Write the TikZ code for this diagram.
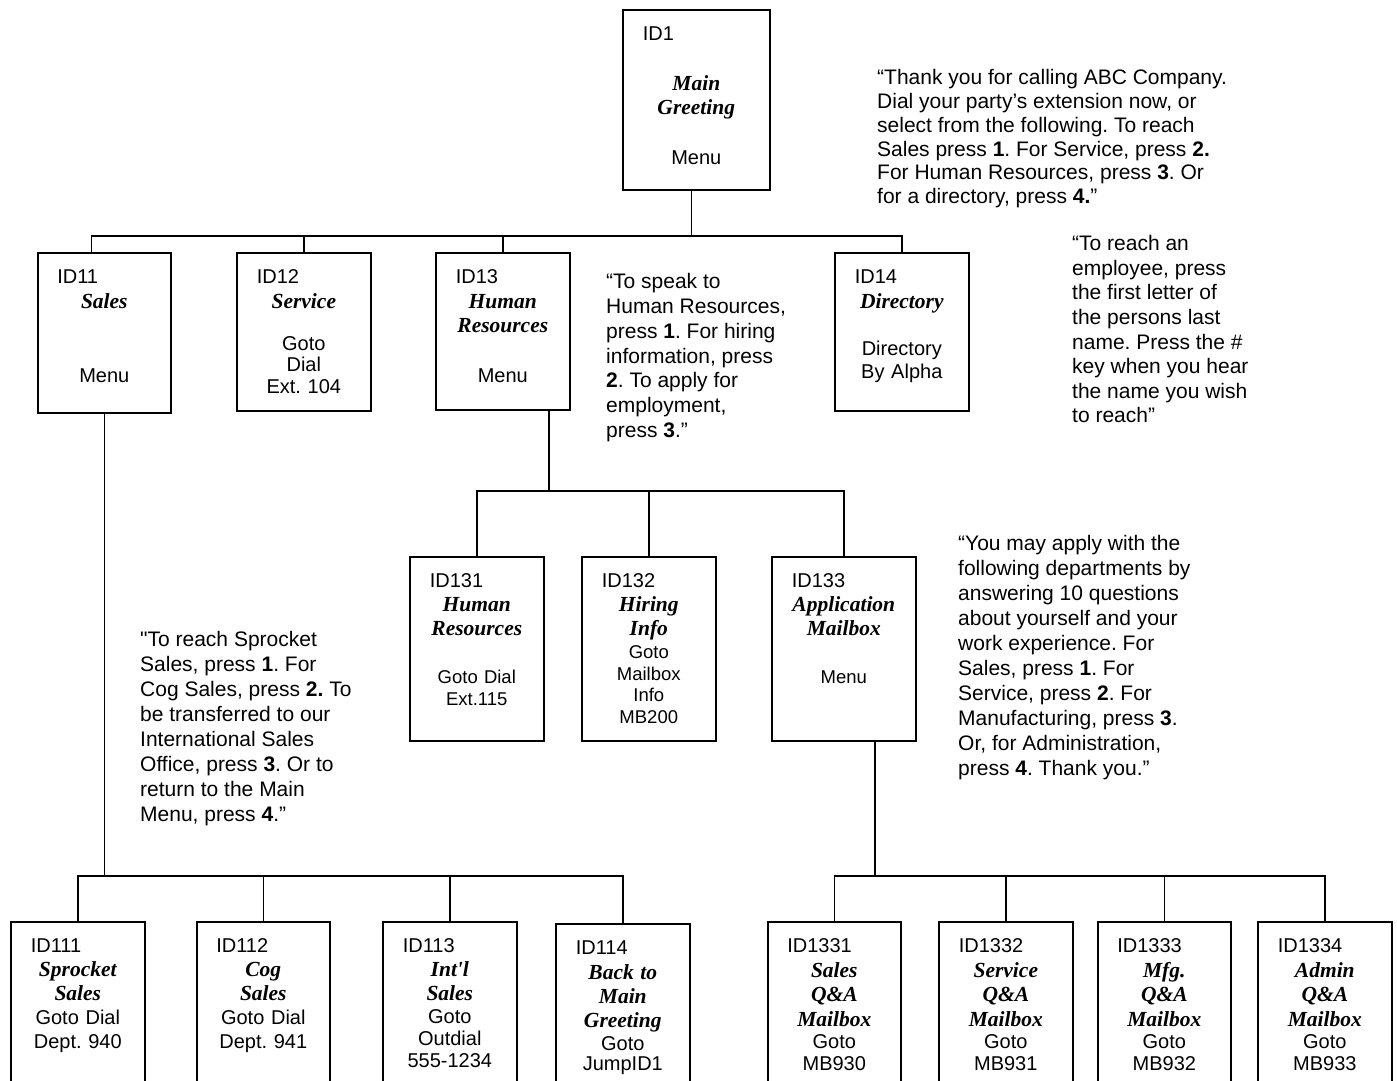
\documentclass[tikz,border=0pt]{standalone}
\usepackage{fontspec}
\setmainfont{Liberation Sans}
\newfontfamily\ttlfont{Liberation Serif}
\usetikzlibrary{positioning}
\frenchspacing

\newcommand{\optitle}[1]{{\ttlfont\bfseries\itshape\fontsize{21.5}{22}\selectfont #1}}
\newcommand{\idline}[1]{\makebox[\linewidth][l]{\hspace*{20pt}\fontsize{20}{22}\selectfont\rule{0pt}{16pt}#1}}

\tikzset{
  menubox/.style={draw, line width=1.6pt, inner sep=0pt, anchor=north west},
  boxtext/.style={inner sep=0pt, text width=134pt, align=center, font=\fontsize{20}{22}\selectfont},
  prompt/.style={inner sep=0pt, anchor=north west, align=left, font=\fontsize{21}{24.8}\selectfont},
  wire/.style={line width=1.5pt}
}

\begin{document}
\begin{tikzpicture}[x=1pt, y=-1pt]
    \useasboundingbox (0,0) rectangle (1397,1080);
    \clip (0,0) rectangle (1397,1080);

    % main menu
    \node[menubox, minimum width=147pt, minimum height=180pt] (b1) at (622,9) {};
    \node[boxtext, text width=147pt, below=15pt of b1.north] (t1)
        {\idline{ID1}\\[28pt]\optitle{Main}\\[2pt]\optitle{Greeting}\\[28pt]Menu};
    \node[prompt, font=\fontsize{21}{23.8}\selectfont] (q1) at (877,68.5)
        {\rule{0pt}{16pt}“Thank you for calling ABC Company.\\
         Dial your party’s extension now, or\\
         select from the following. To reach\\
         Sales press \textbf{1}. For Service, press \textbf{2.}\\
         For Human Resources, press \textbf{3}. Or\\
         for a directory, press \textbf{4.}”};

    % first level
    \node[menubox, minimum width=133pt, minimum height=160pt] (b11) at (37,252) {};
    \node[menubox, minimum width=134pt, minimum height=158pt] (b12) at (236,252) {};
    \node[menubox, minimum width=134pt, minimum height=157pt] (b13) at (435,252) {};
    \node[menubox, minimum width=134pt, minimum height=158pt] (b14) at (834,252) {};
    \node[boxtext, below=15pt of b11.north] (t11)
        {\idline{ID11}\\[3pt]\optitle{Sales}\\[52pt]Menu};
    \node[boxtext, below=15pt of b12.north] (t12)
        {\idline{ID12}\\[3pt]\optitle{Service}\\[20pt]Goto\\[-1pt]Dial\\Ext. 104};
    \node[boxtext, below=15pt of b13.north] (t13)
        {\idline{ID13}\\[3pt]\optitle{Human}\\[2pt]\optitle{Resources}\\[28pt]Menu};
    \node[boxtext, below=15pt of b14.north] (t14)
        {\idline{ID14}\\[3pt]\optitle{Directory}\\[25pt]Directory\\[1pt]By Alpha};
    \node[prompt] (q13) at (606,272.5)
        {\rule{0pt}{16pt}“To speak to\\
         Human Resources,\\
         press \textbf{1}. For hiring\\
         information, press\\
         \textbf{2}. To apply for\\
         employment,\\
         press \textbf{3}.”};
    \node[prompt, font=\fontsize{21}{24.6}\selectfont] (q14) at (1072,234.5)
        {\rule{0pt}{16pt}“To reach an\\
         employee, press\\
         the first letter of\\
         the persons last\\
         name. Press the \#\\
         key when you hear\\
         the name you wish\\
         to reach”};

    % human resources
    \node[menubox, minimum width=134pt, minimum height=184pt] (b131) at (409,556) {};
    \node[menubox, minimum width=134pt, minimum height=184pt] (b132) at (581,556) {};
    \node[menubox, minimum width=144pt, minimum height=184pt] (b133) at (771,556) {};
    \node[boxtext, font=\fontsize{18.5}{22}\selectfont, below=15pt of b131.north] (t131)
        {\idline{ID131}\\[2pt]\optitle{Human}\\[2pt]\optitle{Resources}\\[26pt]Goto Dial\\Ext.115};
    \node[boxtext, font=\fontsize{18.5}{22}\selectfont, below=15pt of b132.north] (t132)
        {\idline{ID132}\\[2pt]\optitle{Hiring}\\[2pt]\optitle{Info}\\[1pt]Goto\\Mailbox\\[-1pt]Info\\MB200};
    \node[boxtext, font=\fontsize{18.5}{22}\selectfont, text width=144pt, below=15pt of b133.north] (t133)
        {\idline{ID133}\\[2pt]\optitle{Application}\\[2pt]\optitle{Mailbox}\\[26pt]Menu};
    \node[prompt, font=\fontsize{21}{25}\selectfont] (q133) at (958,534.5)
        {\rule{0pt}{16pt}“You may apply with the\\
         following departments by\\
         answering 10 questions\\
         about yourself and your\\
         work experience. For\\
         Sales, press \textbf{1}. For\\
         Service, press \textbf{2}. For\\
         Manufacturing, press \textbf{3}.\\
         Or, for Administration,\\
         press \textbf{4}. Thank you.”};

    % sales
    \node[prompt, font=\fontsize{21}{25}\selectfont] (q11) at (140,630.5)
        {\rule{0pt}{16pt}\textquotedbl To reach Sprocket\\
         Sales, press \textbf{1}. For\\
         Cog Sales, press \textbf{2.} To\\
         be transferred to our\\
         International Sales\\
         Office, press \textbf{3}. Or to\\
         return to the Main\\
         Menu, press \textbf{4}.”};
    \node[menubox, minimum width=134pt, minimum height=200pt] (b111) at (10,921) {};
    \node[menubox, minimum width=133pt, minimum height=200pt] (b112) at (196,921) {};
    \node[menubox, minimum width=134pt, minimum height=200pt] (b113) at (382,921) {};
    \node[menubox, minimum width=134pt, minimum height=200pt] (b114) at (555,923) {};
    \node[boxtext, below=15pt of b111.north] (t111)
        {\idline{ID111}\\[2pt]\optitle{Sprocket}\\[2pt]\optitle{Sales}\\[2pt]Goto Dial\\[2pt]Dept. 940};
    \node[boxtext, below=15pt of b112.north] (t112)
        {\idline{ID112}\\[2pt]\optitle{Cog}\\[2pt]\optitle{Sales}\\[2pt]Goto Dial\\[2pt]Dept. 941\hspace*{10pt}};
    \node[boxtext, below=15pt of b113.north] (t113)
        {\idline{ID113}\\[2pt]\optitle{Int\textquotesingle l}\\[2pt]\optitle{Sales}\\[1pt]Goto\\Outdial\\555-1234};
    \node[boxtext, below=15pt of b114.north] (t114)
        {\idline{ID114}\\[3pt]\optitle{Back to}\\[2pt]\optitle{Main}\\[2pt]\optitle{Greeting}\\[1pt]Goto\\[-2pt]JumpID1};

    % application mailboxes
    \node[menubox, minimum width=133pt, minimum height=200pt] (b1331) at (767,921) {};
    \node[menubox, minimum width=134pt, minimum height=200pt] (b1332) at (938,921) {};
    \node[menubox, minimum width=133pt, minimum height=200pt] (b1333) at (1097,921) {};
    \node[menubox, minimum width=134pt, minimum height=200pt] (b1334) at (1257,921) {};
    \node[boxtext, below=15pt of b1331.north] (t1331)
        {\idline{ID1331}\\[3pt]\optitle{Sales}\\[2pt]\optitle{Q\&A}\\[3pt]\optitle{Mailbox}\\Goto\\MB930};
    \node[boxtext, below=15pt of b1332.north] (t1332)
        {\idline{ID1332}\\[3pt]\optitle{Service}\\[2pt]\optitle{Q\&A}\\[3pt]\optitle{Mailbox}\\Goto\\MB931};
    \node[boxtext, below=15pt of b1333.north] (t1333)
        {\idline{ID1333}\\[3pt]\optitle{Mfg.}\\[2pt]\optitle{Q\&A}\\[3pt]\optitle{Mailbox}\\Goto\\MB932};
    \node[boxtext, below=15pt of b1334.north] (t1334)
        {\idline{ID1334}\\[3pt]\optitle{Admin}\\[2pt]\optitle{Q\&A}\\[3pt]\optitle{Mailbox}\\Goto\\MB933};

    % connectors
    \coordinate (bus1) at (0,236);
    \coordinate (bus2) at (0,491);
    \coordinate (bus3) at (0,876);
    \coordinate (k1) at ([xshift=-5pt]b1.south);
    \coordinate (k11) at ([xshift=-13pt]b11.north);
    \coordinate (k13) at ([xshift=46pt]b13.south);
    \coordinate (k133) at ([xshift=31pt]b133.south);

    \draw[wire] (k1) -- (k1 |- bus1);
    \draw[wire] (k11) |- (b14.north |- bus1) -- (b14.north);
    \draw[wire] (b12.north) -- (b12.north |- bus1);
    \draw[wire] (b13.north) -- (b13.north |- bus1);

    \draw[wire] (k13) -- (k13 |- bus2);
    \draw[wire] (b131.north) |- (b133.north |- bus2) -- (b133.north);
    \draw[wire] (b132.north) -- (b132.north |- bus2);

    \draw[wire] (b11.south) -- (b11.south |- bus3);
    \draw[wire] (b111.north) |- (b114.north |- bus3) -- (b114.north);
    \draw[wire] (b112.north) -- (b112.north |- bus3);
    \draw[wire] (b113.north) -- (b113.north |- bus3);

    \draw[wire] (k133) -- (k133 |- bus3);
    \draw[wire] (b1331.north) |- (b1334.north |- bus3) -- (b1334.north);
    \draw[wire] (b1332.north) -- (b1332.north |- bus3);
    \draw[wire] (b1333.north) -- (b1333.north |- bus3);
\end{tikzpicture}
\end{document}
